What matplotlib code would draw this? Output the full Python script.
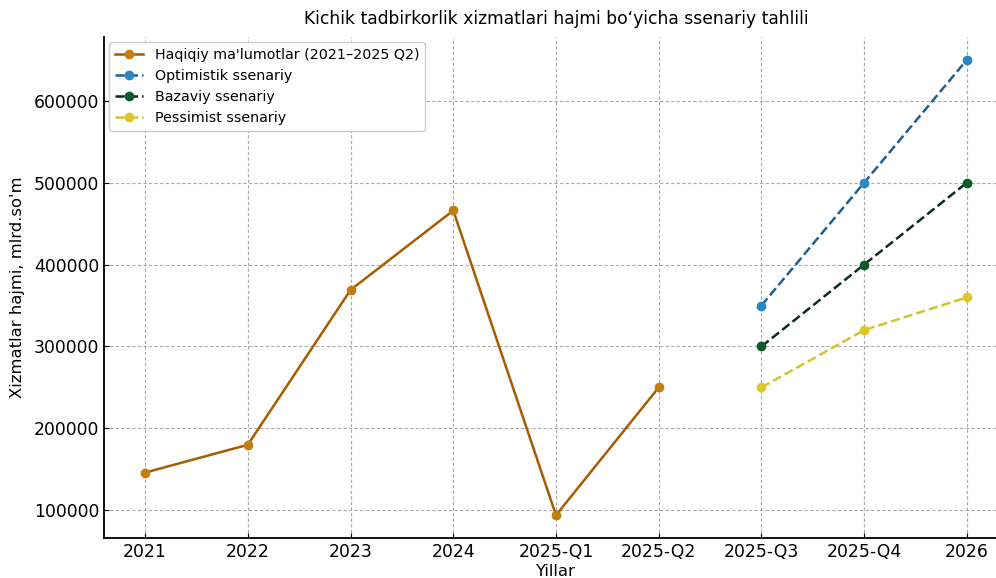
import matplotlib
matplotlib.use('Agg')
import matplotlib.pyplot as plt

# categories on the x axis
labels = ['2021', '2022', '2023', '2024', '2025-Q1', '2025-Q2', '2025-Q3', '2025-Q4', '2026']

# actual values (2021 - 2025 Q2)
actual = [146000, 180000, 369000, 466000, 94000, 250000]

# scenarios (2025 Q3 - 2026)
optimistic = [350000, 500000, 650000]
base = [300000, 400000, 500000]
pessimist = [250000, 320000, 360000]

fig = plt.figure(figsize=(9.96, 5.78), dpi=100)
# axes runs a bit past the right edge, like the cropped reference
ax = fig.add_axes([104/996, 40/578, 904/996, 501/578])

x_act = list(range(len(actual)))
x_scn = list(range(len(actual), len(labels)))

ax.plot(x_act, actual, '-', color='#a65c00', lw=1.8, marker='o', ms=6,
        mfc='#c47d0e', mec='#c47d0e', label="Haqiqiy ma'lumotlar (2021–2025 Q2)")
ax.plot(x_scn, optimistic, '--', color='#1f5f8f', lw=1.8, marker='o', ms=6,
        mfc='#2b86c4', mec='#2b86c4', label='Optimistik ssenariy')
ax.plot(x_scn, base, '--', color='#0d2b1a', lw=1.8, marker='o', ms=6,
        mfc='#0b5a2a', mec='#0b5a2a', label='Bazaviy ssenariy')
ax.plot(x_scn, pessimist, '--', color='#d4c42c', lw=1.8, marker='o', ms=6,
        mfc='#dcc829', mec='#dcc829', label='Pessimist ssenariy')

ax.set_xticks(range(len(labels)))
ax.set_xticklabels(labels)
ax.set_xlim(-0.4, 8.4)
ax.set_ylim(66200, 677800)

ax.tick_params(direction='in', labelsize=12.4)
ax.grid(True, linestyle=(0, (3, 2)), color='#aaaaaa', lw=0.8)
ax.spines['top'].set_visible(False)
ax.spines['right'].set_visible(False)
ax.spines['left'].set_linewidth(1.3)
ax.spines['bottom'].set_linewidth(1.3)

ax.set_title('Kichik tadbirkorlik xizmatlari hajmi bo‘yicha ssenariy tahlili', fontsize=12.3, pad=9)
ax.set_xlabel('Yillar', fontsize=11.8, labelpad=2)
ax.set_ylabel("Xizmatlar hajmi, mlrd.so'm", fontsize=11.8, labelpad=6)
ax.legend(loc='upper left', fontsize=10.3, framealpha=1, edgecolor='#cccccc',
          borderaxespad=0.35)

fig.savefig('out.png', dpi=100)
